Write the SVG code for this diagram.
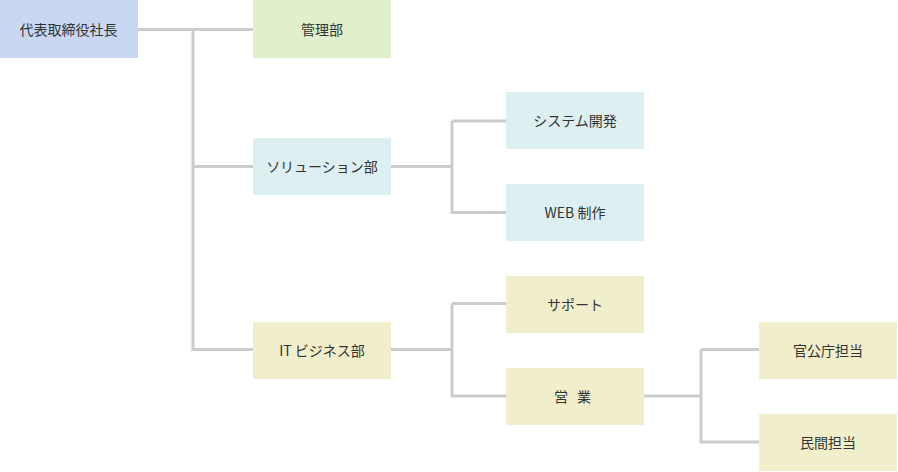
<svg xmlns="http://www.w3.org/2000/svg" width="898" height="472" viewBox="0 0 898 472">
<style>
.box{stroke:none}
.blue{fill:#c9d7f2}
.green{fill:#e0f0cd}
.cyan{fill:#ddeff1}
.yellow{fill:#f1eecb}
text{font-family:"Noto Sans CJK JP","Noto Sans",sans-serif;font-size:14px;fill:#333;text-anchor:middle;dominant-baseline:central}
.conn{fill:none;stroke:#cccccc;stroke-width:3}
</style>
<rect width="898" height="472" fill="#ffffff"/>
<g id="connectors">
<path class="conn" d="M138,29.5 H253 M193,29.5 V349.5 H253 M193,166.5 H253"/>
<path class="conn" d="M391,166.5 H452 M452,121 V212.5 H506 M452,121 H506"/>
<path class="conn" d="M391,349.5 H452 M452,303.5 V396 H506 M452,303.5 H506"/>
<path class="conn" d="M644,396 H701 M701,349.5 V442 H759 M701,349.5 H759"/>
</g>
<g id="n-root"><rect class="box blue" x="0" y="0" width="138" height="58"/><text x="68.5" y="28.5">代表取締役社長</text></g>
<g id="n-kanri"><rect class="box green" x="253" y="0" width="138" height="58"/><text x="322" y="28.5">管理部</text></g>
<g id="n-solution"><rect class="box cyan" x="253" y="138" width="138" height="57"/><text x="322" y="166">ソリューション部</text></g>
<g id="n-system"><rect class="box cyan" x="506" y="92" width="138" height="57"/><text x="575" y="120">システム開発</text></g>
<g id="n-web"><rect class="box cyan" x="506" y="184" width="138" height="57"/><text x="575" y="212">WEB 制作</text></g>
<g id="n-it"><rect class="box yellow" x="253" y="322" width="138" height="57"/><text x="322" y="349.5">IT ビジネス部</text></g>
<g id="n-support"><rect class="box yellow" x="506" y="276" width="138" height="57"/><text x="575" y="303.5">サポート</text></g>
<g id="n-eigyo"><rect class="box yellow" x="506" y="368" width="138" height="57"/><text x="575" y="395.5"><tspan x="562.5">営</tspan> <tspan x="584">業</tspan></text></g>
<g id="n-kankocho"><rect class="box yellow" x="759" y="322" width="138" height="57"/><text x="828" y="349.5">官公庁担当</text></g>
<g id="n-minkan"><rect class="box yellow" x="759" y="414" width="138" height="57"/><text x="828" y="441.5">民間担当</text></g>
</svg>
